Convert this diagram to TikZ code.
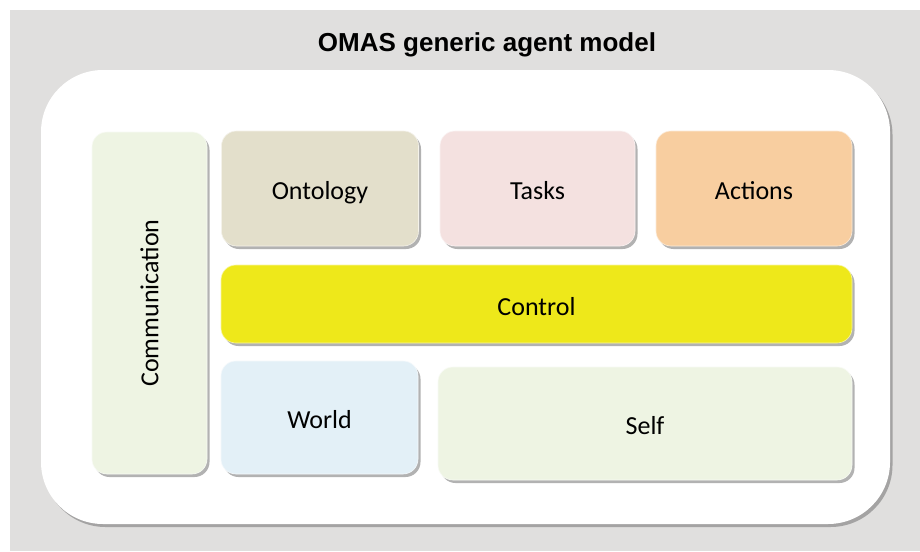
\documentclass[tikz,border=0pt]{standalone}
\usepackage{fontspec}
\setmainfont{Carlito}
\newfontfamily\titlefont{Liberation Sans}
\usetikzlibrary{shadows}
\definecolor{bggray}{HTML}{E0DFDE}
\definecolor{commcol}{HTML}{EEF4E3}
\definecolor{ontcol}{HTML}{E3DFCB}
\definecolor{taskcol}{HTML}{F4E1E0}
\definecolor{actcol}{HTML}{F8CEA0}
\definecolor{ctrlcol}{HTML}{EEE81A}
\definecolor{worldcol}{HTML}{E3F0F7}
\definecolor{selfcol}{HTML}{EEF4E3}
\tikzset{
  shad/.style={drop shadow={shadow xshift=2.5pt, shadow yshift=-3pt, opacity=0.55, fill=black!55}},
  lbl/.style={font=\fontsize{26}{30}\selectfont, text=black, text height=23pt, text depth=0.5pt},
  part/.style={shad, rounded corners=15pt, inner sep=0pt, draw=white!60!#1, line width=0.6pt, fill=#1, lbl},
}
\begin{document}
\begin{tikzpicture}[x=1pt,y=-1pt]
\useasboundingbox (0,0) rectangle (920,551);
\fill[white] (0,0) rectangle (920,551);
\node[fill=bggray, minimum width=910pt, minimum height=541pt, inner sep=0pt] (bg) at (465,280.5) {};
\node[font=\titlefont\bfseries\fontsize{26}{30}\selectfont] (title) at (487,45) {OMAS generic agent model};
\node[shad, fill=white, rounded corners=62pt, minimum width=849pt, minimum height=454pt, inner sep=0pt] (outer) at (465.5,297) {};
\node[part=commcol, minimum width=115pt, minimum height=342pt] (comm) at (149.5,303) {};
\node[rotate=90, font=\fontsize{26}{30}\selectfont, text=black] (commtext) at (comm.center) {Communication};
\node[part=ontcol, minimum width=197pt, minimum height=115pt] (ont) at (320,188.5) {Ontology};
\node[part=taskcol, minimum width=195pt, minimum height=115pt] (tasks) at (537.5,188.5) {Tasks};
\node[part=actcol, minimum width=196pt, minimum height=115pt] (act) at (754,188.5) {Actions};
\node[part=ctrlcol, minimum width=631pt, minimum height=78pt] (ctrl) at (536.5,304) {Control};
\node[part=worldcol, minimum width=197pt, minimum height=113pt] (world) at (319.5,417.5) {World};
\node[part=selfcol, minimum width=414pt, minimum height=113pt] (self) at (645,423.5) {Self};
\end{tikzpicture}
\end{document}
